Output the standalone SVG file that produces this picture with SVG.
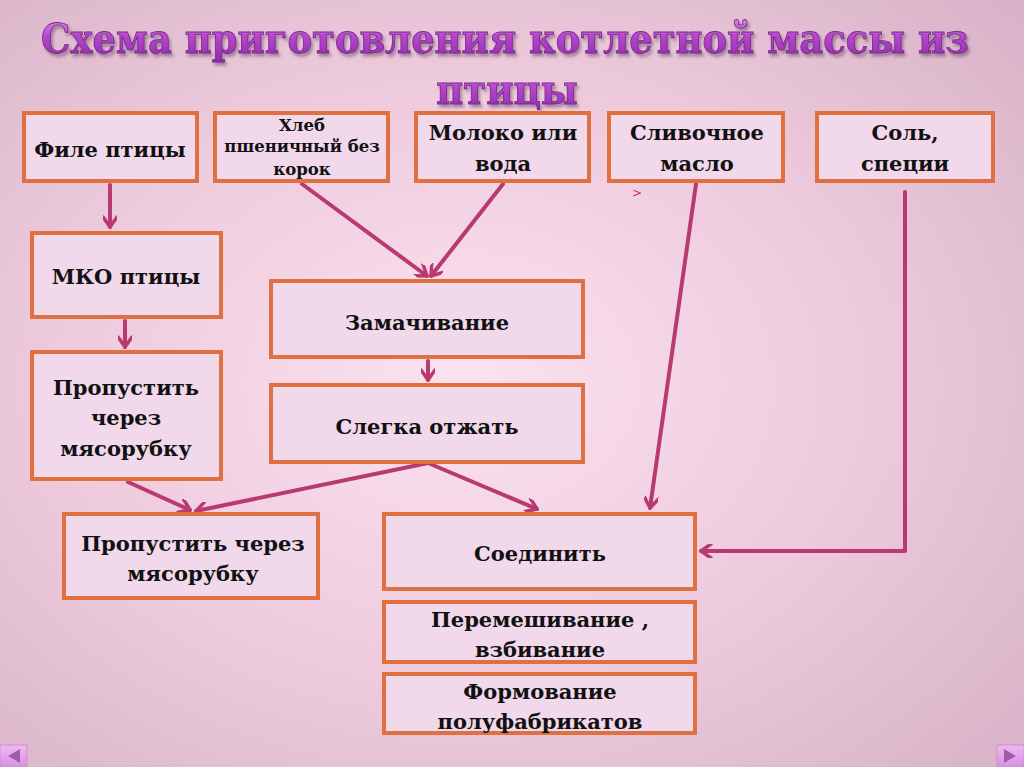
<svg xmlns="http://www.w3.org/2000/svg" width="1024" height="767" viewBox="0 0 1024 767">
<defs>
<radialGradient id="bg" cx="0.45" cy="0.5" r="0.75">
<stop offset="0" stop-color="#FCE2EF"/>
<stop offset="0.5" stop-color="#EECBDD"/>
<stop offset="1" stop-color="#D7B2C6"/>
</radialGradient>
<linearGradient id="tg" x1="0" y1="0" x2="0" y2="1">
<stop offset="0" stop-color="#DC92EA"/>
<stop offset="0.45" stop-color="#B646CC"/>
<stop offset="1" stop-color="#8A2AA6"/>
</linearGradient>
<linearGradient id="btn" x1="0" y1="0" x2="0" y2="1">
<stop offset="0" stop-color="#F0B8F4"/>
<stop offset="1" stop-color="#D890E0"/>
</linearGradient>
<marker id="ah" markerWidth="14" markerHeight="14" viewBox="-12 -7 14 14" refX="0" refY="0" orient="auto" markerUnits="userSpaceOnUse">
<path d="M-10,-7 L0,0 L-10,7" fill="none" stroke="#B93A72" stroke-width="3.5" stroke-linecap="round" stroke-linejoin="round"/>
</marker>
<filter id="sh" filterUnits="userSpaceOnUse" x="0" y="0" width="1024" height="130">
<feGaussianBlur in="SourceAlpha" stdDeviation="1.5"/>
<feOffset dx="2" dy="3" result="b"/>
<feFlood flood-color="#6a4a60" flood-opacity="0.55"/>
<feComposite in2="b" operator="in"/>
<feMerge><feMergeNode/><feMergeNode in="SourceGraphic"/></feMerge>
</filter>
</defs>
<style>
.box{fill:#F1D8EB;stroke:#E0703F;stroke-width:4}
.t{font-family:"DejaVu Serif","Liberation Serif",serif;font-weight:bold;font-size:21px;fill:#111;text-anchor:middle}
.s{font-size:16.5px}
.c{fill:none;stroke:#B93A72;stroke-width:4;stroke-linecap:round;stroke-linejoin:round}
.title{font-family:"DejaVu Serif Condensed","DejaVu Serif",serif;font-weight:bold;font-size:41px;fill:url(#tg);stroke:#7B2590;stroke-width:0.8;text-anchor:middle}
</style>
<rect x="0" y="0" width="1024" height="767" fill="url(#bg)"/>
<g id="title" filter="url(#sh)">
<text class="title" x="505" y="53">Схема приготовления котлетной массы из</text>
<text class="title" x="507" y="104">птицы</text>
</g>
<g id="connectors">
<line class="c" x1="110" y1="185" x2="110" y2="227" marker-end="url(#ah)"/>
<line class="c" x1="125" y1="321" x2="125" y2="347" marker-end="url(#ah)"/>
<line class="c" x1="302" y1="184" x2="427" y2="276" marker-end="url(#ah)"/>
<line class="c" x1="503" y1="184" x2="431" y2="276" marker-end="url(#ah)"/>
<line class="c" x1="428" y1="361" x2="428" y2="380" marker-end="url(#ah)"/>
<line class="c" x1="128" y1="482" x2="190" y2="510" marker-end="url(#ah)"/>
<line class="c" x1="428" y1="463" x2="196" y2="511" marker-end="url(#ah)"/>
<line class="c" x1="428" y1="463" x2="537" y2="509" marker-end="url(#ah)"/>
<line class="c" x1="696" y1="184" x2="650" y2="508" marker-end="url(#ah)"/>
<polyline class="c" points="905,192 905,551 701,551" marker-end="url(#ah)"/>
</g>
<text x="637" y="197" font-family="DejaVu Sans,sans-serif" font-size="12" fill="#D0306E" text-anchor="middle">&gt;</text>
<g id="n1"><rect class="box" x="24" y="113" width="173" height="68"/><text class="t" x="110" y="157">Филе птицы</text></g>
<g id="n2"><rect class="box" x="215" y="113" width="173" height="68"/><text class="t s" x="302" y="131">Хлеб</text><text class="t s" x="302" y="152">пшеничный без</text><text class="t s" x="302" y="175">корок</text></g>
<g id="n3"><rect class="box" x="416" y="113" width="173" height="68"/><text class="t" x="503" y="140">Молоко или</text><text class="t" x="503" y="171">вода</text></g>
<g id="n4"><rect class="box" x="609" y="113" width="174" height="68"/><text class="t" x="697" y="140">Сливочное</text><text class="t" x="697" y="171">масло</text></g>
<g id="n5"><rect class="box" x="817" y="113" width="176" height="68"/><text class="t" x="905" y="140">Соль,</text><text class="t" x="905" y="171">специи</text></g>
<g id="n6"><rect class="box" x="32" y="233" width="189" height="84"/><text class="t" x="126" y="284">МКО птицы</text></g>
<g id="n7"><rect class="box" x="32" y="352" width="189" height="127"/><text class="t" x="126" y="395">Пропустить</text><text class="t" x="126" y="425">через</text><text class="t" x="126" y="456">мясорубку</text></g>
<g id="n8"><rect class="box" x="271" y="281" width="312" height="76"/><text class="t" x="427" y="330">Замачивание</text></g>
<g id="n9"><rect class="box" x="271" y="385" width="312" height="77"/><text class="t" x="427" y="434">Слегка отжать</text></g>
<g id="n10"><rect class="box" x="64" y="514" width="254" height="84"/><text class="t" x="193" y="551">Пропустить через</text><text class="t" x="193" y="581">мясорубку</text></g>
<g id="n11"><rect class="box" x="384" y="514" width="311" height="75"/><text class="t" x="540" y="561">Соединить</text></g>
<g id="n12"><rect class="box" x="384" y="602" width="311" height="60"/><text class="t" x="540" y="627">Перемешивание ,</text><text class="t" x="540" y="657">взбивание</text></g>
<g id="n13"><rect class="box" x="384" y="674" width="311" height="59"/><text class="t" x="540" y="699">Формование</text><text class="t" x="540" y="729">полуфабрикатов</text></g>
<g id="navLeft"><rect x="0" y="745" width="27" height="22" fill="url(#btn)" stroke="#C890D0" stroke-width="1"/><path d="M8,756 L20,749 L20,763 Z" fill="#A05CA8"/></g>
<g id="navRight"><rect x="997" y="745" width="27" height="22" fill="url(#btn)" stroke="#C890D0" stroke-width="1"/><path d="M1016,756 L1004,749 L1004,763 Z" fill="#A05CA8"/></g>
</svg>
